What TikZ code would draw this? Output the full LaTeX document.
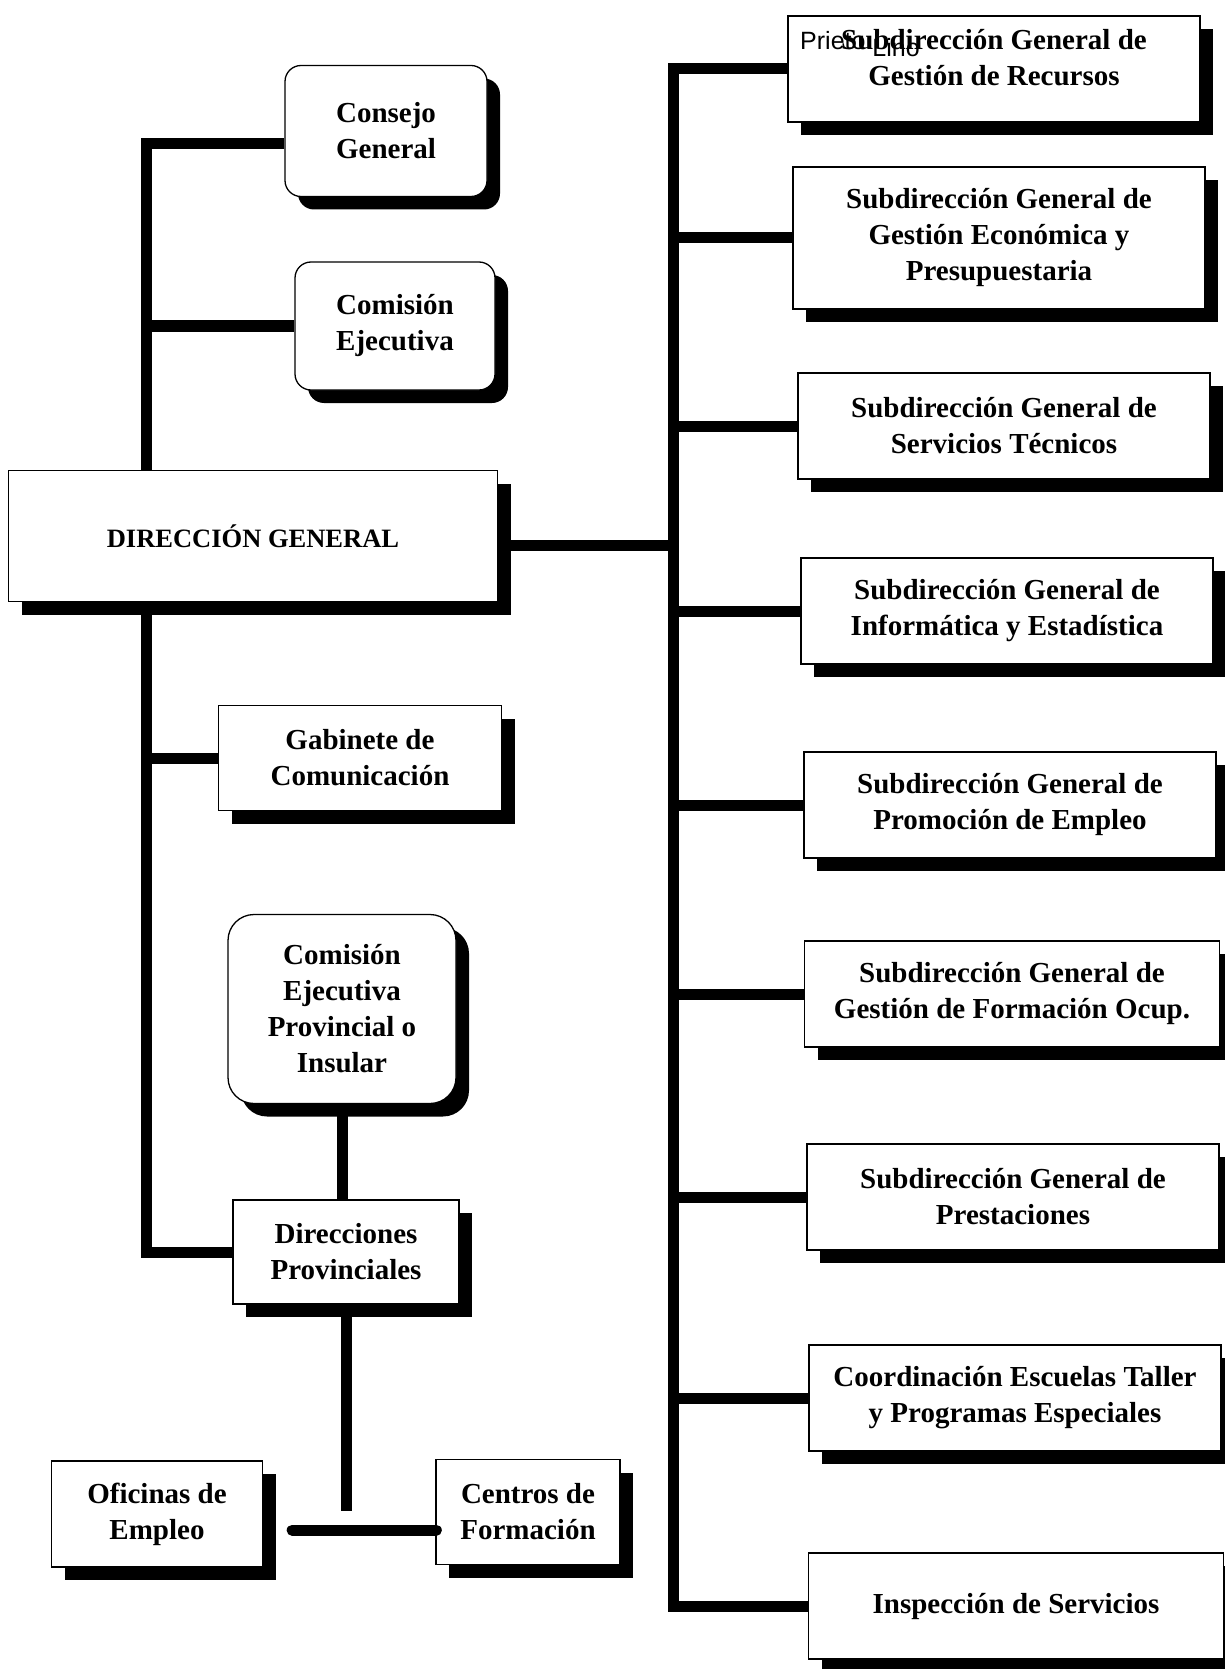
\documentclass[tikz,border=0pt]{standalone}
\usepackage{fontspec}
\setmainfont{Liberation Serif}
\newfontfamily\marcafont{Liberation Sans}
\usetikzlibrary{shadows,backgrounds}

\tikzset{
	rotulo/.style={align=center, inner sep=0pt, font=\bfseries\fontsize{29}{36}\selectfont},
	unidad/.style={rotulo, draw, line width=1.3pt, fill=white,
		drop shadow={shadow xshift=13pt, shadow yshift=-13pt, fill=black, opacity=1}},
	organo/.style={unidad, rounded corners=16pt},
	subdir/.style={unidad, minimum width=412pt, minimum height=106pt},
	enlace/.style={line width=11pt, line join=miter},
}

\begin{document}
\begin{tikzpicture}[x=1pt, y=-1pt]
			%%%%% START %%%%%
			\useasboundingbox (0,0) rectangle (1225,1669);
			\clip (0,0) rectangle (1225,1669);
			
			\coordinate (lx) at (146,0);
			\coordinate (rx) at (673,0);
			\coordinate (dpfin) at (347,1511);
			
			% lado izquierdo
			\node[organo, minimum width=202pt, minimum height=131pt] (consejo) at (386,131) {Consejo\\General};
			\node[organo, minimum width=200pt, minimum height=128pt] (comision) at (395,326) {Comisión\\Ejecutiva};
			\node[unidad, minimum width=489pt, minimum height=131pt, font=\bfseries\fontsize{26.5}{32}\selectfont] (dg) at (253,536) {DIRECCIÓN GENERAL};
			\node[unidad, minimum width=283pt, minimum height=105pt] (gabinete) at (360,758) {Gabinete de\\Comunicación};
			\node[organo, rounded corners=26pt, minimum width=228pt, minimum height=189pt] (cepi) at (342,1009) {Comisión\\Ejecutiva\\Provincial o\\Insular};
			\node[unidad, minimum width=226pt, minimum height=104pt] (dirprov) at (346,1252) {Direcciones\\Provinciales};
			\node[unidad, minimum width=211pt, minimum height=106pt] (oficinas) at (157,1514) {Oficinas de\\Empleo};
			\node[unidad, minimum width=184pt, minimum height=105pt] (centros) at (528,1512) {Centros de\\Formación};
			
			% lado derecho
			\node[subdir] (sg1) at (994,69) {};
			\node[rotulo] (sg1txt) at (994,58) {Subdirección General de\\Gestión de Recursos};
			\node[subdir, minimum height=142pt] (sg2) at (999,238) {Subdirección General de\\Gestión Económica y\\Presupuestaria};
			\node[subdir] (sg3) at (1004,426) {Subdirección General de\\Servicios Técnicos};
			\node[subdir] (sg4) at (1007,611) {Subdirección General de\\Informática y Estadística};
			\node[subdir] (sg5) at (1010,805) {Subdirección General de\\Promoción de Empleo};
			\node[subdir, minimum width=415pt] (sg6) at (1012,994) {Subdirección General de\\Gestión de Formación Ocup.};
			\node[subdir] (sg7) at (1013,1197) {Subdirección General de\\Prestaciones};
			\node[subdir] (sg8) at (1015,1398) {Coordinación Escuelas Taller\\y Programas Especiales};
			\node[subdir, minimum width=415pt] (sg9) at (1016,1606) {Inspección de Servicios};
			
			\node[anchor=base west, inner sep=0pt, font=\marcafont\fontsize{25}{25}\selectfont] (marca) at (800,50) {Prieto \raisebox{-7pt}{Lino}};
			
			\begin{scope}[on background layer]
				\fill[white] (0,0) rectangle (1225,1669);
				
				\draw[enlace] ([yshift=-13pt]consejo.west) -| (lx |- dirprov.west) -- (dirprov.west);
				\draw[enlace] (comision.west) -- (comision.west -| lx);
				\draw[enlace] (gabinete.west) -- (gabinete.west -| lx);
				\draw[enlace] (cepi.south) -- (cepi.south |- dirprov.north);
				\draw[enlace] (dirprov.south) -- (dirprov.south |- dpfin);
				
				\draw[enlace] ([yshift=-9pt]dg.east) -- ([yshift=-9pt]dg.east -| rx);
				\draw[enlace] (sg1.west) -- (rx |- sg1.west) -- (rx |- sg9.west) -- (sg9.west);
				\foreach \n in {sg2,sg3,sg4,sg5,sg6,sg7,sg8}
					\draw[enlace] (\n.west) -- (\n.west -| rx);
			\end{scope}
			
			\draw[enlace, line cap=round] ([xshift=29pt,yshift=-16pt]oficinas.east) -- ([xshift=1pt,yshift=-16pt]oficinas.east -| centros.west);
			
			%%%%% END %%%%%
\end{tikzpicture}
\end{document}
